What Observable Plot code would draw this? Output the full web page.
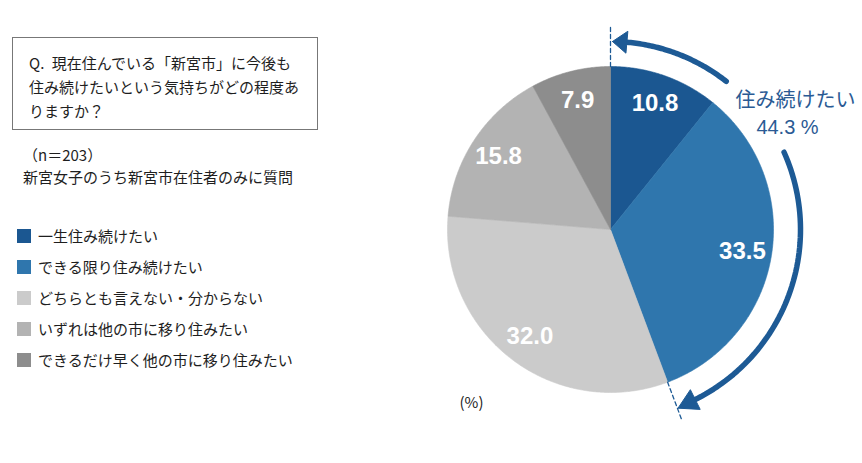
<!DOCTYPE html>
<html><head><meta charset="utf-8">
<script src="https://cdn.jsdelivr.net/npm/d3@7"></script>
<script src="https://cdn.jsdelivr.net/npm/@observablehq/plot@0.6"></script>
<style>
html,body{margin:0;padding:0;background:#fff;}
#wrap{position:relative;width:862px;height:463px;font-family:"Noto Sans CJK JP",sans-serif;color:#1e1e1e;overflow:hidden;}
#chart{position:absolute;left:0;top:0;}
#qbox{position:absolute;left:12px;top:37px;width:306px;height:93px;box-sizing:border-box;border:1px solid #777;padding:13px 0 0 16px;font-size:15px;line-height:24px;}
.note{position:absolute;left:23px;font-size:15px;line-height:20px;}
.leg{position:absolute;left:17px;font-size:15px;line-height:20px;display:flex;align-items:center;}
.sw{width:14px;height:14px;margin-right:7px;flex:none;}
</style></head>
<body>
<div id="wrap">
  <div id="chart"></div>
  <div id="qbox"></div>
  <div class="note" id="n1" style="top:145px"></div>
  <div class="note" id="n2" style="top:167px"></div>
  <div id="legend"></div>
</div>
<script>
const categories = ["一生住み続けたい","できる限り住み続けたい","どちらとも言えない・分からない","いずれは他の市に移り住みたい","できるだけ早く他の市に移り住みたい"];
const values = [10.8, 33.5, 32.0, 15.8, 7.9];
const colors = ["#1b5791","#2f76ad","#cbcbcb","#b3b3b3","#8d8d8d"];
const questionLines = ["Q.\u2002現在住んでいる「新宮市」に今後も","住み続けたいという気持ちがどの程度あ","りますか？"];
const sampleNote = "（n＝203）";
const subNote = "新宮女子のうち新宮市在住者のみに質問";
const groupLabel = "住み続けたい";
const unitLabel = "(%)";

// left panel text
document.getElementById("qbox").innerHTML = questionLines.join("<br>");
document.getElementById("n1").textContent = sampleNote;
document.getElementById("n2").textContent = subNote;
const leg = document.getElementById("legend");
categories.forEach((c,i)=>{
  const d = document.createElement("div");
  d.className = "leg";
  d.style.top = (226 + i*31) + "px";
  d.innerHTML = `<span class="sw" style="background:${colors[i]}"></span><span>${c}</span>`;
  leg.appendChild(d);
});

// geometry
const cx = 610, cy = 229, R = 163;
const total = d3.sum(values);
const pt = (deg, r) => ({x: cx + r*Math.sin(deg*Math.PI/180), y: cy - r*Math.cos(deg*Math.PI/180)});
let acc = 0;
const wedges = values.map((v,i)=>{
  const a0 = acc/total*360; acc += v; const a1 = acc/total*360;
  return {i, v, a0, a1, mid:(a0+a1)/2};
});
const wedgeMarks = wedges.map(w=>{
  const pts = [pt(0,0)];
  const n = Math.max(4, Math.ceil((w.a1-w.a0)*2));
  for (let k=0;k<=n;k++) pts.push(pt(w.a0+(w.a1-w.a0)*k/n, R));
  pts.push(pt(0,0));
  return Plot.line(pts, {x:"x", y:"y", fill:colors[w.i], stroke:colors[w.i], strokeWidth:0.6});
});
const labels = wedges.map(w=>({...pt(w.mid, R*0.82), t: w.v.toFixed(1)}));

const keepShare = values[0] + values[1];
const splitAngle = keepShare/total*360;
const arcPts = (a0,a1,r)=>{const p=[];const n=60;for(let k=0;k<=n;k++)p.push(pt(a0+(a1-a0)*k/n,r));return p;};
const head = (tipA, baseA, r, tipR)=>[pt(tipA, tipR), pt(baseA, r-11), pt(baseA, r+11), pt(tipA, tipR)];
const blue = "#1d5a95";

const plot = Plot.plot({
  width: 862, height: 463,
  margin: 0,
  x: {domain:[0,862], range:[0,862], axis:null},
  y: {domain:[0,463], range:[0,463], axis:null},
  marks: [
    ...wedgeMarks,
    Plot.text(labels, {x:"x", y:"y", text:"t", fill:"white", fontSize:24, fontWeight:"bold", fontFamily:"Liberation Sans, Arial, sans-serif"}),
    Plot.line([pt(0,R), pt(0,203)], {x:"x", y:"y", stroke:blue, strokeWidth:1.3, strokeDasharray:"4,3"}),
    Plot.line([pt(splitAngle,R), pt(splitAngle,203)], {x:"x", y:"y", stroke:blue, strokeWidth:1.3, strokeDasharray:"4,3"}),
    Plot.line(arcPts(38, 4.5, 188), {x:"x", y:"y", stroke:blue, strokeWidth:5.5}),
    Plot.line(head(0.6, 5, 188, 188), {x:"x", y:"y", fill:blue, stroke:blue, strokeWidth:1}),
    Plot.line(arcPts(66, 154.5, 190), {x:"x", y:"y", stroke:blue, strokeWidth:5.5}),
    Plot.line(head(159.3, 153.5, 190, 191), {x:"x", y:"y", fill:blue, stroke:blue, strokeWidth:1}),
    Plot.text([groupLabel], {x:()=>795, y:()=>100, text:d=>d, fill:"#2a5a94", fontSize:20, fontFamily:"Noto Sans CJK JP"}),
    Plot.text([keepShare.toFixed(1) + " %"], {x:()=>787, y:()=>127, text:d=>d, fill:"#2a5a94", fontSize:20, fontFamily:"Liberation Sans, Arial, sans-serif"}),
    Plot.text([unitLabel], {x:()=>471, y:()=>403, text:d=>d, fill:"#222", fontSize:15, fontFamily:"Noto Sans CJK JP"})
  ]
});
document.getElementById("chart").appendChild(plot);
</script>
</body></html>
